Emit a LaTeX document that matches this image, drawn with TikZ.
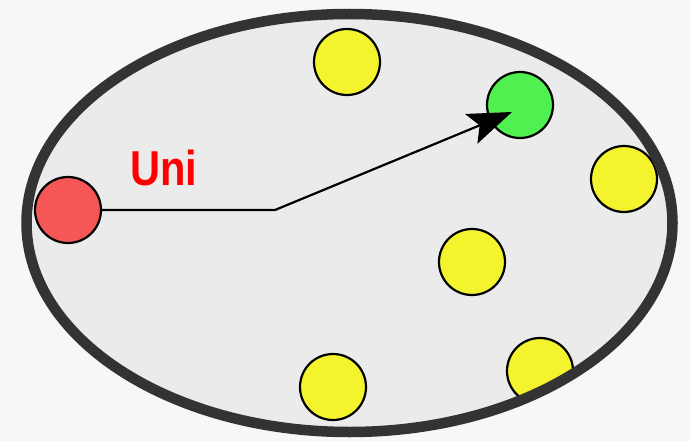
\documentclass[tikz,border=0pt]{standalone}
\usepackage{fontspec}
\setmainfont{Liberation Sans}
\usetikzlibrary{arrows.meta}
\definecolor{rim}{HTML}{333333}
\definecolor{inner}{HTML}{EBEBEB}
\definecolor{yel}{HTML}{F4F42E}
\definecolor{grn}{HTML}{50F050}
\definecolor{rd}{HTML}{F55656}
\definecolor{lbl}{HTML}{FF0000}
\tikzset{
  dot/.style={circle, draw=black, line width=2.2pt, minimum size=66pt, inner sep=0pt},
  ydot/.style={dot, fill=yel},
  conn/.style={draw=black, line width=2.2pt},
}
\begin{document}
\begin{tikzpicture}[x=1pt,y=-1pt]
\useasboundingbox (0,0) rectangle (690,441);
\fill[white!97!black] (0,0) rectangle (690,441);
\fill[inner] (349.5,223) ellipse [x radius=323, y radius=209];
\begin{scope}
\clip (349.5,223) ellipse [x radius=323, y radius=209];
\node[ydot] (y1) at (347,62) {};
\node[dot, fill=grn] (g) at (520,105) {};
\node[ydot] (y2) at (624,179) {};
\node[dot, fill=rd] (r) at (68,210) {};
\node[ydot] (y3) at (472,262) {};
\node[ydot] (y4) at (333,387) {};
\node[ydot] (y5) at (540,371) {};
\end{scope}
\draw[rim, line width=10.5pt] (349.5,223) ellipse [x radius=323, y radius=209];
\node[text=lbl, anchor=base west, inner sep=0pt, xscale=0.85] (t) at (130,185) {\fontsize{49}{49}\selectfont\bfseries Uni};
\coordinate (bend) at (275,210);
\coordinate (tip) at (512,112);
\draw[conn, -{Stealth[length=44pt,width=32pt,inset=9pt]}] (r.east) -- (bend) -- (tip);
\end{tikzpicture}
\end{document}
